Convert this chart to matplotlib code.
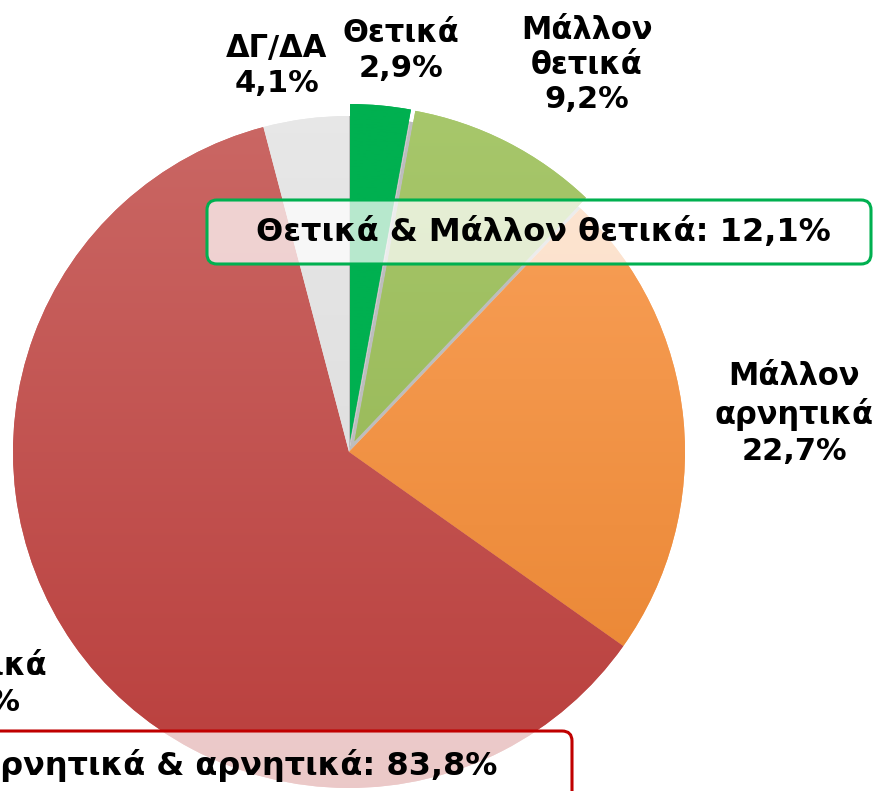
import matplotlib
matplotlib.use("Agg")
import matplotlib.pyplot as plt
import numpy as np
from matplotlib.colors import LinearSegmentedColormap
from matplotlib.patches import FancyBboxPatch

# data
categories = ["Θετικά", "Μάλλον\nθετικά", "Μάλλον\nαρνητικά", "Αρνητικά", "ΔΓ/ΔΑ"]
values = [2.9, 9.2, 22.7, 61.1, 4.1]
group_labels = ["Θετικά & Μάλλον θετικά", "Μάλλον αρνητικά & αρνητικά"]
group_values = [values[0] + values[1], values[2] + values[3]]

# colours (top, bottom of the gradient)
grads = [("#00B050", "#00B050"),
         ("#A8C86C", "#8EAF4C"),
         ("#FBA45E", "#E7812C"),
         ("#CB6966", "#B93D3B"),
         ("#E8E8E8", "#D8D8D8")]

W, H = 874, 791
cx, cy, R = 349, H - 452, 336
explode = [12, 12, 0, 0, 0]  # pixels, pie takes them in data units

fig = plt.figure(figsize=(W / 100, H / 100), dpi=100)
ax = fig.add_axes([0, 0, 1, 1])

# grey "shadow" under the pulled-out slices so the gaps are not white
ax.pie(values, startangle=90, counterclock=False, center=(cx, cy), radius=R,
       colors=["#BDBDBD", "#BDBDBD", "none", "none", "none"],
       wedgeprops=dict(linewidth=0, zorder=0.5), frame=True)

wedges, _ = ax.pie(values, explode=explode, startangle=90, counterclock=False,
                   center=(cx, cy), radius=R, colors=[g[0] for g in grads],
                   wedgeprops=dict(linewidth=0), frame=True)

# vertical gradient fills clipped to each wedge
grad = np.linspace(1, 0, 256).reshape(-1, 1)
for w, (top, bot) in zip(wedges, grads):
    cmap = LinearSegmentedColormap.from_list("g", [bot, top])
    im = ax.imshow(grad, extent=(cx - R - 30, cx + R + 30, cy - R - 30, cy + R + 30),
                   cmap=cmap, aspect="auto", zorder=w.get_zorder(), origin="upper")
    im.set_clip_path(w)
ax.set_xlim(0, W)
ax.set_ylim(0, H)
ax.set_aspect("auto")
ax.axis("off")


def fmt(v):
    return f"{v:.1f}".replace(".", ",") + "%"


font = dict(fontsize=22, fontweight="bold", family="DejaVu Sans", color="black",
            ha="center", va="center", linespacing=1.25)

label_pos = [(401, 51), (587, 65), (794, 414), (-33, 683), (277, 66)]
for cat, v, (px, py) in zip(categories, values, label_pos):
    ax.text(px, H - py, f"{cat}\n{fmt(v)}", zorder=5, **font)

# summary boxes: (x, y, w, h) in pixels from top-left, edge colour, text anchor
boxes = [((207, 200, 664, 64), "#00B050", 543, 233, "center"),
         ((-40, 731, 612, 70), "#C00000", 497, 765, "right")]
for ((bx, by, bw, bh), ec, tx, ty, ha), lab, v in zip(boxes, group_labels, group_values):
    box = FancyBboxPatch((bx, H - by - bh), bw, bh,
                         boxstyle="round,pad=0,rounding_size=10",
                         facecolor=(1, 1, 1, 0.72), edgecolor=ec, linewidth=2.2,
                         zorder=6, clip_on=False)
    ax.add_patch(box)
    ax.text(tx, H - ty, f"{lab}: {fmt(v)}", zorder=7,
            **{**font, "fontsize": 23, "ha": ha})

fig.savefig("out.png", dpi=100)
